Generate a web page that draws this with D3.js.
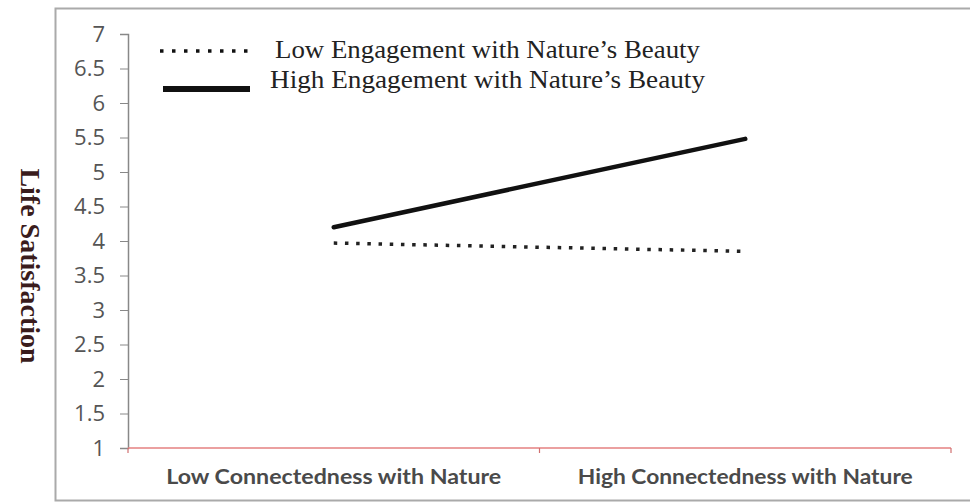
<!DOCTYPE html>
<html>
<head>
<meta charset="utf-8">
<script src="https://cdn.jsdelivr.net/npm/d3@7"></script>
<style>
  body { margin: 0; background: #fff; }
</style>
</head>
<body>
<svg id="chart" width="970" height="503"></svg>
<script>
// data
var categories = ["Low Connectedness with Nature", "High Connectedness with Nature"];
var lowEngagement = [3.97, 3.85];
var highEngagement = [4.2, 5.48];
var seriesNames = ["Low Engagement with Nature\u2019s Beauty", "High Engagement with Nature\u2019s Beauty"];
var yTicks = [1, 1.5, 2, 2.5, 3, 3.5, 4, 4.5, 5, 5.5, 6, 6.5, 7];

var margin = {top: 34, right: 19, bottom: 55, left: 128},
    width = 970 - margin.left - margin.right,
    height = 503 - margin.top - margin.bottom;

var svg = d3.select("#chart");

// outer frame
svg.append("rect")
    .attr("x", 55.5)
    .attr("y", 8.5)
    .attr("width", 930)
    .attr("height", 492)
    .style("fill", "none")
    .style("stroke", "#aaa")
    .style("stroke-width", 2);

var g = svg.append("g")
    .attr("transform", "translate(" + margin.left + "," + margin.top + ")");

var x = d3.scaleBand()
    .domain(categories)
    .range([0, width]);

var y = d3.scaleLinear()
    .domain([1, 7])
    .range([height, 0]);

// y axis
var yAxis = g.append("g")
    .call(d3.axisLeft(y).tickValues(yTicks).tickSize(8).tickPadding(15).tickFormat(d3.format("")));
yAxis.select(".domain").attr("stroke", "#888").attr("stroke-width", 1.5);
yAxis.selectAll(".tick line").attr("stroke", "#888");
yAxis.selectAll("text")
    .style("font-family", "'Open Sans', Lato, sans-serif")
    .style("font-size", "22px")
    .style("fill", "#555");

// x axis: line with ticks at band edges
g.append("line")
    .attr("x1", 0).attr("x2", width)
    .attr("y1", height).attr("y2", height)
    .attr("stroke", "#e58080")
    .attr("stroke-width", 1.5);

var edges = categories.map(function(c) { return x(c); }).concat([width]);
g.selectAll(".xtick")
    .data(edges)
    .enter().append("line")
    .attr("class", "xtick")
    .attr("x1", function(d) { return d; }).attr("x2", function(d) { return d; })
    .attr("y1", height).attr("y2", height + 5)
    .attr("stroke", "#d07070")
    .attr("stroke-width", 1.2);

g.selectAll(".xlabel")
    .data(categories)
    .enter().append("text")
    .attr("class", "xlabel")
    .attr("x", function(d) { return x(d) + x.bandwidth() / 2; })
    .attr("y", height + 36)
    .attr("text-anchor", "middle")
    .attr("textLength", 335)
    .attr("lengthAdjust", "spacingAndGlyphs")
    .style("font-family", "Lato, 'Open Sans', sans-serif")
    .style("font-size", "20px")
    .style("font-weight", 700)
    .style("fill", "#4a4a4a")
    .text(function(d) { return d; });

// y axis title
svg.append("text")
    .attr("transform", "translate(21,266) rotate(90)")
    .attr("text-anchor", "middle")
    .style("font-family", "'Liberation Serif', 'Times New Roman', serif")
    .style("font-size", "28px")
    .style("font-weight", 700)
    .style("fill", "#3a1c1c")
    .text("Life Satisfaction");

// lines
var line = d3.line()
    .x(function(d, i) { return x(categories[i]) + x.bandwidth() / 2; })
    .y(function(d) { return y(d); });

g.append("path")
    .datum(lowEngagement)
    .attr("d", line)
    .attr("fill", "none")
    .attr("stroke", "#222")
    .attr("stroke-width", 3.5)
    .attr("stroke-dasharray", "3.5 7.7");

g.append("path")
    .datum(highEngagement)
    .attr("d", line)
    .attr("fill", "none")
    .attr("stroke", "#111")
    .attr("stroke-width", 4.5)
    .attr("stroke-linecap", "round");

// legend
var legend = svg.append("g");
var legendStyles = [
    {dash: "3.5 8.5", w: 3.5, y: 51, ty: 58, x1: 160, x2: 248, tx: 275, tl: 425},
    {dash: null, w: 6, y: 89, ty: 88, x1: 163, x2: 250, tx: 270, tl: 435}
];
seriesNames.forEach(function(name, i) {
    var s = legendStyles[i];
    legend.append("line")
        .attr("x1", s.x1).attr("x2", s.x2)
        .attr("y1", s.y).attr("y2", s.y)
        .attr("stroke", "#111")
        .attr("stroke-width", s.w)
        .attr("stroke-dasharray", s.dash);
    legend.append("text")
        .attr("x", s.tx)
        .attr("y", s.ty)
        .attr("textLength", s.tl)
        .attr("lengthAdjust", "spacingAndGlyphs")
        .style("font-family", "'Liberation Serif', 'Times New Roman', serif")
        .style("font-size", "26px")
        .style("fill", "#222")
        .text(name);
});
</script>
</body>
</html>
